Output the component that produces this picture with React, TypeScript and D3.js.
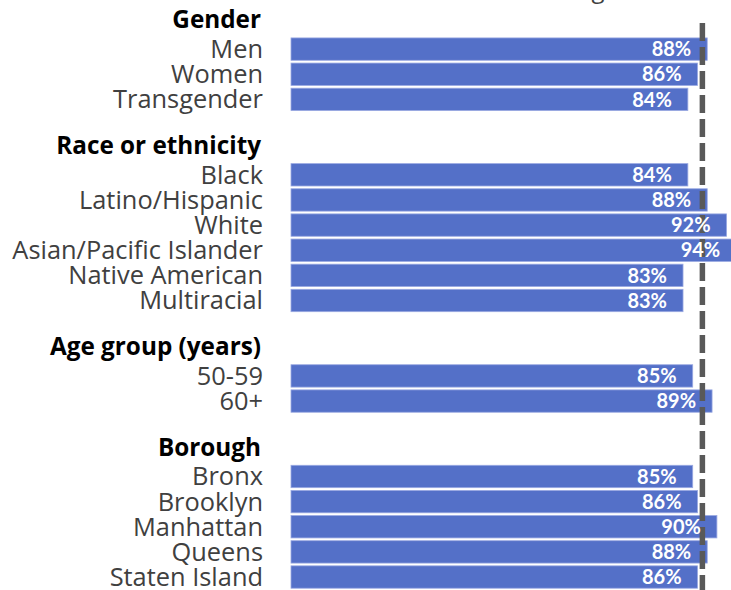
import React from "react";
import * as d3 from "d3";

const groupNames = ["Gender", "Race or ethnicity", "Age group (years)", "Borough"];
const genderLabels = ["Men", "Women", "Transgender"];
const genderValues = [88, 86, 84];
const raceLabels = ["Black", "Latino/Hispanic", "White", "Asian/Pacific Islander", "Native American", "Multiracial"];
const raceValues = [84, 88, 92, 94, 83, 83];
const ageLabels = ["50-59", "60+"];
const ageValues = [85, 89];
const boroughLabels = ["Bronx", "Brooklyn", "Manhattan", "Queens", "Staten Island"];
const boroughValues = [85, 86, 90, 88, 86];
const averageValue = 87;
const averageLabel = "NYC average";

const W = 731;
const H = 590;
const BAR_COLOR = "#5470c8";
const LABEL_FONT = "'Open Sans', sans-serif";
const VALUE_FONT = "Lato, 'Open Sans', sans-serif";

type Slot = { id: string; kind: "header" | "gap" | "row"; label: string; value?: number };

export default function App() {
  const groups = [
    { name: groupNames[0], labels: genderLabels, values: genderValues },
    { name: groupNames[1], labels: raceLabels, values: raceValues },
    { name: groupNames[2], labels: ageLabels, values: ageValues },
    { name: groupNames[3], labels: boroughLabels, values: boroughValues },
  ];
  const slots: Slot[] = [];
  groups.forEach((g, gi) => {
    if (gi > 0) slots.push({ id: `gap-${gi}`, kind: "gap", label: "" });
    slots.push({ id: `h-${gi}`, kind: "header", label: g.name });
    g.labels.forEach((l, i) => slots.push({ id: `r-${gi}-${i}`, kind: "row", label: l, value: g.values[i] }));
  });

  const y = d3
    .scaleBand<string>()
    .domain(slots.map((s) => s.id))
    .range([11.4, 589.6])
    .paddingInner(0.11)
    .paddingOuter(0.055);
  const x = d3.scaleLinear().domain([2, 100]).range([291, 765.3]);

  const labelX = 263;
  const rows = slots.filter((s) => s.kind === "row");
  const headers = slots.filter((s) => s.kind === "header");
  const mid = (id: string) => (y(id) as number) + y.bandwidth() / 2;

  return (
    <div style={{ position: "absolute", left: 0, top: 0, width: W, height: H, overflow: "hidden", background: "#fff" }}>
      <svg width={W} height={H} style={{ display: "block" }}>
        <text x={618} y={-2} textAnchor="end" fontFamily={LABEL_FONT} fontSize={24} fill="#404040">
          {averageLabel}
        </text>
        {headers.map((s) => (
          <text key={s.id} x={labelX - 2} y={mid(s.id) - 4} dy="0.35em" textAnchor="end" fontFamily={LABEL_FONT} fontWeight={700} fontSize={24.3} fill="#000">
            {s.label}
          </text>
        ))}
        {rows.map((s) => (
          <text key={s.id + "l"} x={labelX} y={mid(s.id)} dy="0.35em" textAnchor="end" fontFamily={LABEL_FONT} fontSize={25.4} fill="#404040">
            {s.label}
          </text>
        ))}
        {rows.map((s) => (
          <rect
            key={s.id + "b"}
            x={x(2)}
            y={y(s.id)}
            width={x(s.value as number) - x(2)}
            height={y.bandwidth()}
            fill={BAR_COLOR}
            stroke="#9aa9e2"
            strokeWidth={0.8}
          />
        ))}
        <line x1={x(averageValue)} x2={x(averageValue)} y1={23} y2={H} stroke="#595959" strokeWidth={5.5} strokeDasharray="18 6" />
        {rows.map((s) => (
          <text key={s.id + "v"} x={x(s.value as number) - 16} y={mid(s.id)} dy="0.36em" textAnchor="end" fontFamily={VALUE_FONT} fontWeight={700} fontSize={20} fill="#fff">
            {`${s.value}%`}
          </text>
        ))}
      </svg>
    </div>
  );
}
